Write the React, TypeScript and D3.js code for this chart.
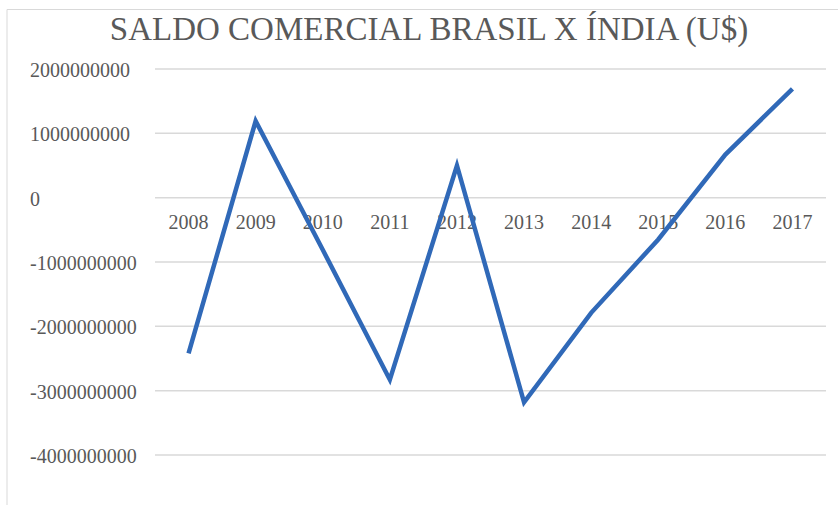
import React from 'react';
import * as d3 from 'd3';

const years = ['2008', '2009', '2010', '2011', '2012', '2013', '2014', '2015', '2016', '2017'];
const saldo = [-2.42e9, 1.19e9, -0.81e9, -2.83e9, 0.5e9, -3.18e9, -1.79e9, -0.65e9, 0.67e9, 1.69e9];
const yTicks = [2e9, 1e9, 0, -1e9, -2e9, -3e9, -4e9];
const title = 'SALDO COMERCIAL BRASIL X ÍNDIA (U$)';

const width = 838;
const height = 505;
const left = 155;
const right = 826;
const textColor = '#595959';

const App: React.FC = () => {
  const x = d3.scaleBand<string>().domain(years).range([left, right]);
  const y = d3.scaleLinear().domain([-4e9, 2e9]).range([455, 69]);

  const line = d3
    .line<number>()
    .x((_, i) => (x(years[i]) as number) + x.bandwidth() / 2)
    .y((d) => y(d));

  return (
    <svg
      width={width}
      height={height}
      style={{ position: 'absolute', left: 0, top: 0, background: '#fff' }}
      fontFamily="'Liberation Serif', 'Times New Roman', serif"
    >
      {/* chart frame */}
      <path d={`M7,${height} V9.5 H${width}`} fill="none" stroke="#d9d9d9" strokeWidth={1} />

      <text x={429} y={40} textAnchor="middle" fontSize={33} fill={textColor}>
        {title}
      </text>

      {yTicks.map((t) => (
        <g key={t}>
          <line x1={left} x2={right} y1={y(t)} y2={y(t)} stroke="#d9d9d9" strokeWidth={1.5} />
          <text x={30} y={y(t) + 8} fontSize={20} fill={textColor}>
            {t}
          </text>
        </g>
      ))}

      {years.map((yr) => (
        <text
          key={yr}
          x={(x(yr) as number) + x.bandwidth() / 2}
          y={y(0) + 31}
          textAnchor="middle"
          fontSize={20}
          fill={textColor}
        >
          {yr}
        </text>
      ))}

      <path d={line(saldo) ?? ''} fill="none" stroke="#3069b8" strokeWidth={4.5} strokeLinejoin="miter" />
    </svg>
  );
};

export default App;
